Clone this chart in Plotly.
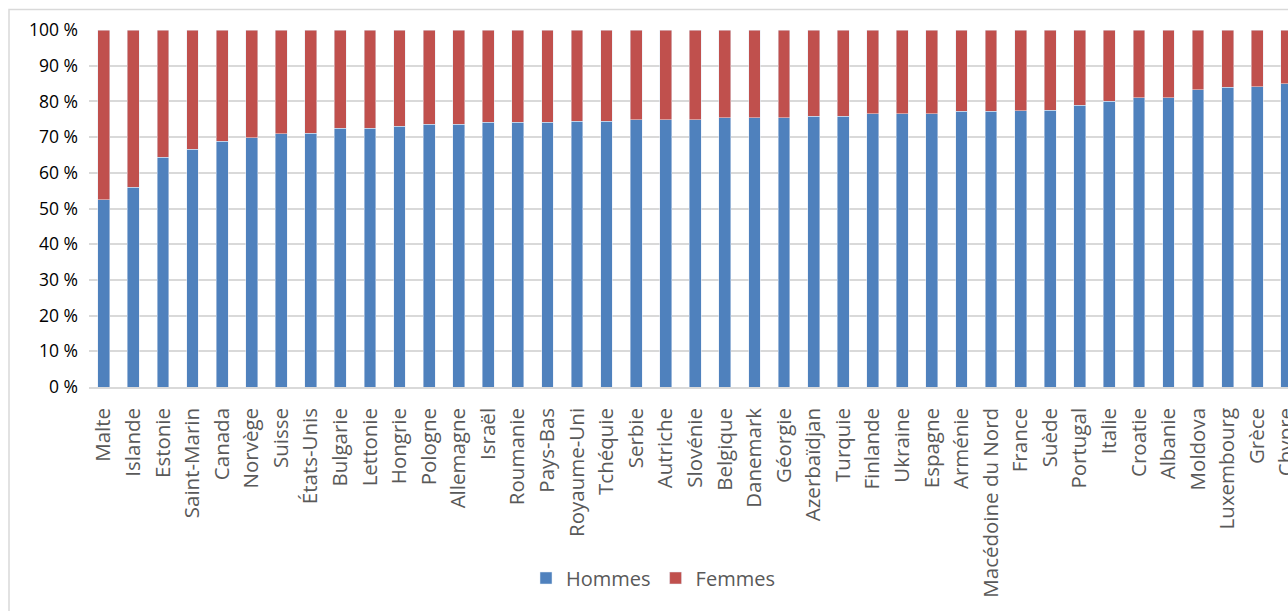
import plotly.graph_objects as go

# Share of men and women per country (%), sorted by the share of men
countries = [
    "Malte", "Islande", "Estonie", "Saint-Marin", "Canada", "Norvège", "Suisse",
    "États-Unis", "Bulgarie", "Lettonie", "Hongrie", "Pologne", "Allemagne", "Israël",
    "Roumanie", "Pays-Bas", "Royaume-Uni", "Tchéquie", "Serbie", "Autriche",
    "Slovénie", "Belgique", "Danemark", "Géorgie", "Azerbaïdjan", "Turquie",
    "Finlande", "Ukraine", "Espagne", "Arménie", "Macédoine du Nord", "France",
    "Suède", "Portugal", "Italie", "Croatie", "Albanie", "Moldova", "Luxembourg",
    "Grèce", "Chypre",
]
hommes = [
    52.5, 56.0, 64.4, 66.6, 68.9, 69.8, 71.0,
    71.1, 72.5, 72.5, 73.0, 73.6, 73.6, 74.1,
    74.1, 74.1, 74.4, 74.5, 74.8, 74.8,
    74.8, 75.4, 75.4, 75.4, 75.9, 75.9,
    76.5, 76.5, 76.5, 77.3, 77.3, 77.4,
    77.5, 78.9, 80.1, 81.0, 81.0, 83.2, 84.0,
    84.1, 84.9,
]
femmes = [round(100 - h, 1) for h in hommes]
y_ticks = list(range(0, 101, 10))

BLUE = "#4F81BD"
RED = "#C0504D"
GRID = "#D9D9D9"
FONT = "Open Sans"

W, H = 1288, 611
left, top, bottom = 89, 29.5, 387
plot_w = W - left
plot_h = bottom - top
cat_px = 29.575  # width of one category slot
x_end = -0.5 + plot_w / cat_px

fig = go.Figure()
fig.add_trace(go.Bar(x=countries, y=hommes, name="Hommes", marker_color=BLUE))
fig.add_trace(go.Bar(x=countries, y=femmes, name="Femmes", marker_color=RED))


def px_to_paper_x(px):
    return (px - left) / plot_w


def px_to_paper_y(py):
    return (bottom - py) / plot_h


# chart-area frame (continues beyond the right and bottom edges)
fig.add_shape(
    type="rect", xref="paper", yref="paper",
    x0=px_to_paper_x(9), x1=px_to_paper_x(W + 40),
    y0=px_to_paper_y(H + 40), y1=px_to_paper_y(9),
    line=dict(color=GRID, width=1.5), layer="below",
)

fig.update_layout(
    width=W, height=H,
    margin=dict(l=left, r=0, t=top, b=H - bottom, pad=0, autoexpand=False),
    barmode="stack",
    bargap=0.6,
    plot_bgcolor="white",
    paper_bgcolor="white",
    font=dict(family=FONT, color="#595959"),
    showlegend=True,
    legend=dict(
        orientation="h",
        xref="container", yref="container",
        x=653 / W, xanchor="center",
        y=(H - 578) / H, yanchor="middle",
        font=dict(size=20, color="#595959", family=FONT),
        traceorder="normal",
        itemwidth=30,
        bgcolor="rgba(0,0,0,0)",
    ),
    xaxis=dict(
        type="category",
        range=[-0.5, x_end],
        automargin=False,
        tickangle=-90,
        tickfont=dict(size=20.5, color="#595959", family=FONT),
        showgrid=False,
        showline=True,
        linecolor=GRID,
        linewidth=1.5,
        ticks="",
        ticklabelstandoff=11,
    ),
    yaxis=dict(
        range=[0, 100],
        automargin=False,
        tickvals=y_ticks,
        ticktext=[f"{v} %" for v in y_ticks],
        tickfont=dict(size=17.5, color="#000000", family=FONT),
        showgrid=True,
        gridcolor=GRID,
        gridwidth=1.5,
        zeroline=False,
        showline=False,
        ticks="",
        ticklabelstandoff=10,
    ),
)

fig.write_html("out.html")
